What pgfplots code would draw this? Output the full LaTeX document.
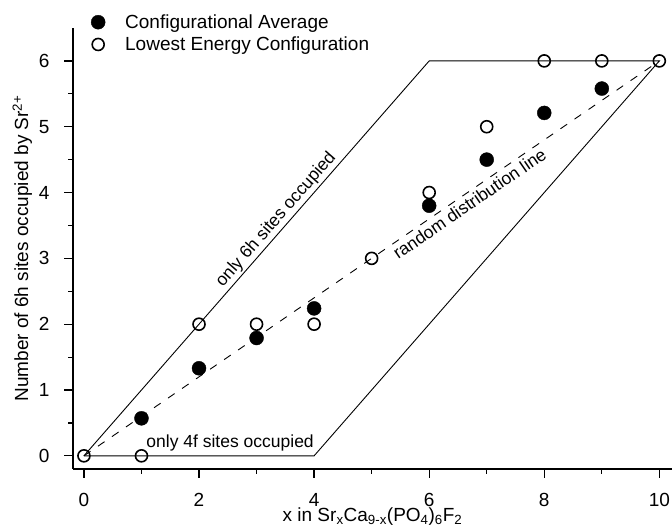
\documentclass[border=0pt]{standalone}
\usepackage{fontspec}
\setmainfont{Liberation Sans}
\usepackage{pgfplots}
\pgfplotsset{compat=1.18}
\begin{document}
\begin{tikzpicture}
\begin{axis}[
  scale only axis, width=599pt, height=441pt,
  xmin=-0.19, xmax=10.22, ymin=-0.2, ymax=6.5,
  axis lines*=left,
  axis line style={line width=1.2pt},
  tick align=outside,
  xtick={0,2,...,10}, ytick={0,...,6},
  minor x tick num=1, minor y tick num=1,
  major tick length=9pt, minor tick length=5pt,
  every tick/.style={black, line width=1.2pt},
  /pgf/number format/assume math mode=true,
  tick label style={font=\fontsize{19}{23}\selectfont},
  xticklabel style={yshift=-12pt},
  yticklabel style={xshift=-11pt},
  label style={font=\fontsize{19}{23}\selectfont},
  xlabel style={yshift=6pt},
  xlabel={x in Sr\textsubscript{x}Ca\textsubscript{9-x}(PO\textsubscript{4})\textsubscript{6}F\textsubscript{2}},
  ylabel={Number of 6h sites occupied by Sr\textsuperscript{2+}},
  legend style={draw=none, fill=none, at={(0.025,1.04)}, anchor=north west,
    font=\fontsize{19}{23}\selectfont, cells={anchor=west}, row sep=3pt,
    /tikz/every odd column/.append style={column sep=18pt}},
  clip=false,
]
% parallelogram and random distribution line
\addplot[black, line width=0.9pt, forget plot] coordinates {(0,0) (6,6)}
  node[pos=0.58, sloped, above, inner sep=2pt, font=\fontsize{17.5}{20}\selectfont] {only 6h sites occupied};
\addplot[black, line width=0.9pt, forget plot] coordinates {(6,6) (10,6) (4,0) (0,0)};
\addplot[black, line width=0.9pt, dash pattern=on 8pt off 9pt, forget plot] coordinates {(0,0) (10,6)}
  node[pos=0.66, sloped, below, font=\fontsize{17.5}{20}\selectfont] {random distribution line};
\node[anchor=base, font=\fontsize{17.5}{20}\selectfont] at (axis cs:2.54,0.12) {only 4f sites occupied};

\addlegendimage{only marks, mark=*, mark size=7pt, black}
\addlegendentry{Configurational Average}
\addplot[only marks, mark=o, mark size=6pt, line width=1.6pt, black] coordinates {
  (0,0) (1,0) (2,2) (3,2) (4,2) (5,3) (6,4) (7,5) (8,6) (9,6) (10,6)
};
\addlegendentry{Lowest Energy Configuration}
\addplot[only marks, mark=*, mark size=7pt, black, forget plot] coordinates {
  (1,0.57) (2,1.33) (3,1.79) (4,2.24) (6,3.8) (7,4.5) (8,5.21) (9,5.58)
};
\end{axis}
\pgfresetboundingbox
\path (-73pt,-63pt) rectangle (599pt,469pt);
\end{tikzpicture}
\end{document}
